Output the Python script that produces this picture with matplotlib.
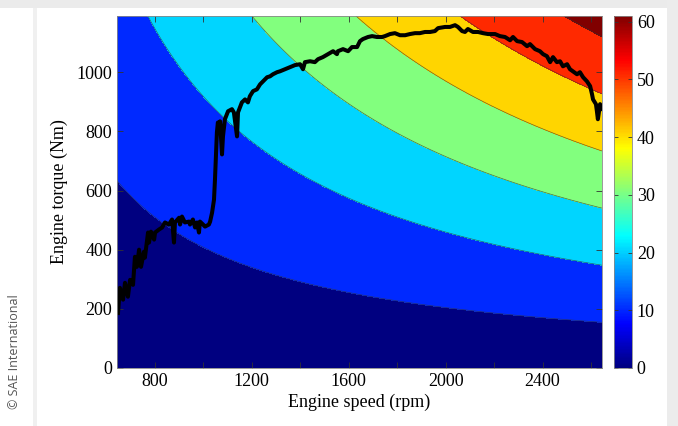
import numpy as np
import matplotlib
matplotlib.use("Agg")
import matplotlib.pyplot as plt
from matplotlib.patches import Rectangle
from matplotlib.colors import LinearSegmentedColormap, Normalize

# fuel flow map: fuel = idle + slope * power(kW)
idle_fuel = 2.0
bsfc_slope = 0.187
fuel_levels = [0, 10, 20, 30, 40, 50, 60, 70]
cbar_ticks = [0, 10, 20, 30, 40, 50, 60]

speed_range = [645, 2645]
torque_range = [0, 1190]

# engine operating trace (rpm, Nm)
trace_speed = [
    649, 657, 670, 678, 690, 699, 711, 719, 727, 736, 744, 756, 760, 773, 777, 785,
    798, 802, 818, 831, 843, 859, 872, 880, 884, 901, 905, 913, 925, 942, 946, 958,
    967, 975, 983, 987, 1000, 1008, 1024, 1029, 1037, 1045,
    1049, 1053, 1057, 1061, 1066, 1070, 1078, 1082, 1090, 1103, 1119, 1127, 1140, 1144,
    1160, 1173, 1185, 1193,
    1206, 1222, 1235, 1247, 1264, 1276, 1288, 1305, 1317, 1338, 1358, 1379, 1400, 1412,
    1420, 1441, 1461, 1474, 1494, 1515, 1536, 1552, 1556, 1577, 1598, 1614, 1635, 1647,
    1659, 1680, 1697, 1717, 1738, 1750,
    1771, 1791, 1812, 1833, 1853, 1874, 1894, 1915, 1936, 1956, 1969, 1998, 2018, 2039,
    2051, 2068, 2080, 2092, 2113, 2134, 2154, 2175,
    2204, 2224, 2245, 2266, 2278, 2295, 2315, 2336, 2348, 2369, 2389, 2402, 2418, 2431,
    2443, 2459, 2472, 2484, 2501, 2513, 2525, 2542, 2554, 2567, 2583, 2596, 2604, 2608,
    2620, 2624, 2628, 2637, 2641,
]
trace_torque = [
    186, 271, 231, 288, 241, 298, 281, 376, 342, 400, 342, 393, 373, 458, 424, 461,
    434, 458, 468, 475, 492, 485, 502, 424, 492, 508, 485, 512, 492, 495, 485, 502,
    475, 492, 458, 495, 485, 478, 485, 495, 525, 569,
    637, 715, 797, 830, 807, 834, 722, 783, 841, 868, 875, 864, 783, 864,
    898, 908, 898, 919,
    936, 942, 959, 969, 983, 986, 993, 1000, 1003, 1010, 1017, 1024, 1027, 1010,
    1034, 1037, 1034, 1044, 1051, 1061, 1071, 1061, 1071, 1078, 1071, 1085, 1085, 1105,
    1112, 1119, 1122, 1119, 1119, 1122,
    1129, 1132, 1125, 1125, 1129, 1132, 1132, 1136, 1136, 1139, 1149, 1153, 1153, 1159,
    1153, 1139, 1136, 1146, 1136, 1136, 1132, 1129,
    1129, 1122, 1119, 1108, 1119, 1105, 1102, 1088, 1095, 1078, 1071, 1061, 1054, 1034,
    1051, 1034, 1037, 1020, 1027, 1010, 1003, 993, 1000, 983, 969, 953, 925, 908,
    892, 868, 841, 892, 875,
]

plt.rcParams['font.family'] = ['Liberation Serif', 'DejaVu Serif']

# MATLAB-style jet
matlab_jet = LinearSegmentedColormap('matlab_jet', {
    'red':   [(0, 0, 0), (0.375, 0, 0), (0.625, 1, 1), (0.875, 1, 1), (1, 0.5, 0.5)],
    'green': [(0, 0, 0), (0.125, 0, 0), (0.375, 1, 1), (0.625, 1, 1), (0.875, 0, 0), (1, 0, 0)],
    'blue':  [(0, 0.5, 0.5), (0.125, 1, 1), (0.375, 1, 1), (0.625, 0, 0), (1, 0, 0)],
}, N=256)

fig = plt.figure(figsize=(6.78, 4.26), dpi=100, facecolor='white')

# page frame of the screenshot
fig.patches.append(Rectangle((0, 1 - 8 / 426), 1, 8 / 426, transform=fig.transFigure,
                             facecolor='#ebebeb', edgecolor='none', zorder=0))
fig.patches.append(Rectangle((667 / 678, 0), 11 / 678, 1, transform=fig.transFigure,
                             facecolor='#ececec', edgecolor='none', zorder=0))
fig.patches.append(Rectangle((33 / 678, 0), 4 / 678, 1 - 8 / 426, transform=fig.transFigure,
                             facecolor='#f0f0f0', edgecolor='none', zorder=0))

ax = fig.add_axes([117 / 678, 58 / 426, 485 / 678, 352 / 426])
cax = fig.add_axes([614 / 678, 58 / 426, 18 / 678, 352 / 426])

spd = np.linspace(speed_range[0], speed_range[1], 300)
trq = np.linspace(torque_range[0], torque_range[1], 300)
S, T = np.meshgrid(spd, trq)
power_kw = S * T * np.pi / 30000.0
fuel = idle_fuel + bsfc_slope * power_kw

band_norm = Normalize(vmin=0, vmax=60)
band_colors = [matlab_jet(band_norm(l)) for l in fuel_levels[:-1]]
ax.contourf(S, T, fuel, levels=fuel_levels, colors=band_colors)
ax.contour(S, T, fuel, levels=fuel_levels[1:-1], colors='#333333', linewidths=0.5, alpha=0.7)

ax.plot(trace_speed, trace_torque, color='black', lw=2.9, solid_joinstyle='round')

ax.set_xlim(speed_range)
ax.set_ylim(torque_range)
ax.set_xticks([800, 1200, 1600, 2000, 2400])
ax.set_xticks([1000, 1400, 1800, 2200, 2600], minor=True)
ax.set_yticks([0, 200, 400, 600, 800, 1000])
ax.tick_params(which='both', direction='in', top=True, right=True, length=4,
               width=0.6, labelsize=13, color='#333333')
ax.set_xlabel('Engine speed (rpm)', fontsize=13, labelpad=3)
ax.set_ylabel('Engine torque (Nm)', fontsize=13, labelpad=6)
for sp in ax.spines.values():
    sp.set_linewidth(0.6)
    sp.set_color('#888888')

sm = matplotlib.cm.ScalarMappable(norm=Normalize(vmin=0, vmax=61), cmap=matlab_jet)
cb = fig.colorbar(sm, cax=cax, ticks=cbar_ticks)
cb.outline.set_linewidth(0.6)
cb.outline.set_edgecolor('#888888')
cax.tick_params(direction='in', left=True, right=True, length=3, width=0.6,
                labelsize=13, color='#333333')

fig.text(15 / 678, 1 - 352 / 426, '\u00a9 SAE International', rotation=90, ha='center', va='center',
         fontsize=9, color='#555555', family=['Open Sans', 'DejaVu Sans'])

fig.savefig('out.png', dpi=100, facecolor=fig.get_facecolor())
